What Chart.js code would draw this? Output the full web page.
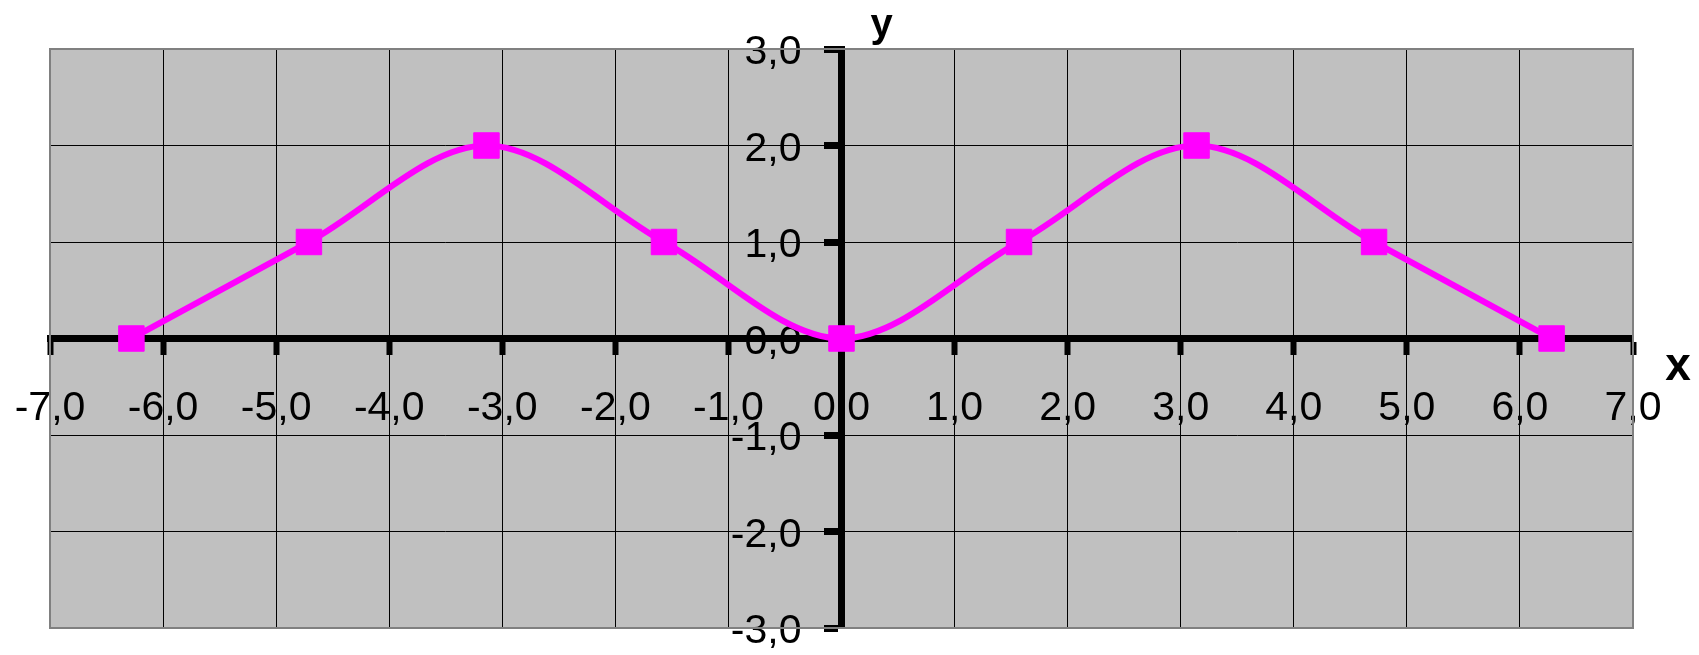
<!DOCTYPE html>
<html>
<head>
<meta charset="utf-8">
<script src="https://cdn.jsdelivr.net/npm/chart.js@4"></script>
<style>
  html, body { margin: 0; padding: 0; background: #fff; }
  #wrap { width: 1699px; height: 655px; }
</style>
</head>
<body>
<div id="wrap"><canvas id="graph"></canvas></div>
<script>
const xValues = [-6.28, -4.71, -3.14, -1.57, 0, 1.57, 3.14, 4.71, 6.28];
const yValues = [0, 1, 2, 1, 0, 1, 2, 1, 0];
const xRange = [-7, 7];
const yRange = [-3, 3];
const xTitle = 'x';
const yTitle = 'y';

const labelFont = '41px "Liberation Sans", Arial, sans-serif';
const fmt = value => value.toFixed(1).replace('.', ',');

// plot background, grey frame, y tick labels and the two axis names
const plotDecor = {
    id: 'plotDecor',
    beforeDraw(chart) {
        const {ctx, chartArea: a} = chart;
        ctx.save();
        ctx.fillStyle = '#c0c0c0';
        ctx.fillRect(a.left, a.top, a.right - a.left, a.bottom - a.top);
        ctx.restore();
    },
    beforeDatasetsDraw(chart) {
        const {ctx, scales} = chart;
        const x0 = scales.x.getPixelForValue(0);
        ctx.save();
        ctx.fillStyle = '#000';
        ctx.font = labelFont;
        ctx.textAlign = 'right';
        ctx.textBaseline = 'middle';
        scales.y.ticks.forEach(t => {
            ctx.fillText(fmt(t.value), x0 - 40, scales.y.getPixelForValue(t.value) + 4);
        });
        ctx.restore();
    },
    afterDatasetsDraw(chart) {
        const {ctx, chartArea: a} = chart;
        ctx.save();
        ctx.strokeStyle = '#808080';
        ctx.lineWidth = 2;
        ctx.strokeRect(a.left, a.top, a.right - a.left, a.bottom - a.top);
        ctx.restore();
    },
    afterDraw(chart) {
        const {ctx, chartArea: a, scales} = chart;
        ctx.save();
        ctx.fillStyle = '#000';
        ctx.textAlign = 'center';
        ctx.textBaseline = 'alphabetic';
        ctx.font = 'bold 40px "Liberation Sans", Arial, sans-serif';
        ctx.fillText(yTitle, scales.x.getPixelForValue(0) + 40, a.top - 12);
        ctx.font = 'bold 46px "Liberation Sans", Arial, sans-serif';
        ctx.fillText(xTitle, a.right + 45, scales.y.getPixelForValue(0) + 41);
        ctx.restore();
    }
};

const edgeColor = (ctx, lo, hi) =>
    (ctx.tick && (ctx.tick.value === lo || ctx.tick.value === hi)) ? '#808080' : '#000';

const noPadding = scale => {
    scale.paddingLeft = 0;
    scale.paddingRight = 0;
    scale.paddingTop = 0;
    scale.paddingBottom = 0;
};

new Chart(document.getElementById('graph'), {
    type: 'scatter',
    data: {
        datasets: [{
            data: xValues.map((x, i) => ({x: x, y: yValues[i]})),
            showLine: true,
            borderColor: '#ff00ff',
            backgroundColor: '#ff00ff',
            borderWidth: 6,
            tension: 0.33,
            pointStyle: 'rect',
            pointRadius: 18,
            pointBorderWidth: 1,
            pointBorderColor: '#ff00ff',
            pointBackgroundColor: '#ff00ff',
            clip: false
        }]
    },
    options: {
        responsive: true,
        maintainAspectRatio: false,
        animation: false,
        layout: {
            padding: {left: 50, right: 66, top: 49, bottom: 27}
        },
        scales: {
            x: {
                type: 'linear',
                min: xRange[0],
                max: xRange[1],
                position: {y: 0},
                afterFit: noPadding,
                grid: {
                    color: ctx => edgeColor(ctx, xRange[0], xRange[1]),
                    lineWidth: 1,
                    tickColor: '#000',
                    tickLength: 13,
                    tickWidth: 6
                },
                border: {color: '#000', width: 7},
                ticks: {
                    stepSize: 1,
                    padding: 33,
                    color: '#000',
                    maxRotation: 0,
                    font: {family: '"Liberation Sans", Arial, sans-serif', size: 41},
                    callback: value => fmt(value)
                }
            },
            y: {
                type: 'linear',
                min: yRange[0],
                max: yRange[1],
                position: {x: 0},
                afterFit: noPadding,
                grid: {
                    color: ctx => edgeColor(ctx, yRange[0], yRange[1]),
                    lineWidth: 1,
                    tickColor: '#000',
                    tickLength: 14,
                    tickWidth: 7
                },
                border: {color: '#000', width: 7},
                ticks: {
                    stepSize: 1,
                    display: false
                }
            }
        },
        plugins: {
            legend: {display: false},
            tooltip: {enabled: false}
        }
    },
    plugins: [plotDecor]
});
</script>
</body>
</html>
